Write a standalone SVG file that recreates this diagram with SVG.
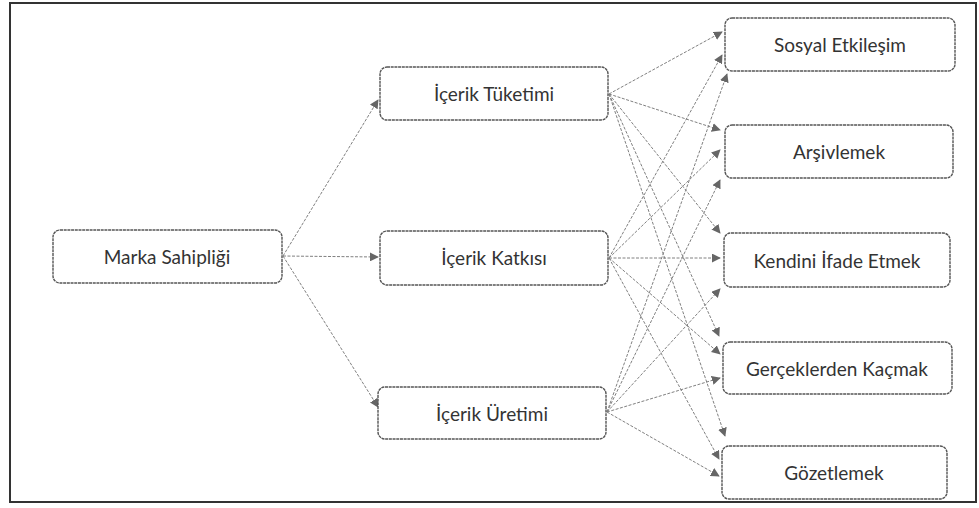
<svg xmlns="http://www.w3.org/2000/svg" width="979" height="508" viewBox="0 0 979 508">
<defs>
<marker id="ah" viewBox="0 0 10 10" refX="9" refY="5" markerWidth="9" markerHeight="9" markerUnits="userSpaceOnUse" orient="auto">
<path d="M0,0 L10,5 L0,10 z" fill="#666"/>
</marker>
<style>
.box{fill:#fff;stroke:#555;stroke-width:1.4;stroke-dasharray:3 0.7}
.lbl{font-family:Lato,"Open Sans",sans-serif;font-size:19px;fill:#333;text-anchor:middle;dominant-baseline:central}
.c{fill:none;stroke:#808080;stroke-width:1;stroke-dasharray:3 1.5;marker-end:url(#ah)}
</style>
</defs>
<rect x="0" y="0" width="979" height="508" fill="#fff"/>
<rect x="10" y="3" width="966" height="499" fill="none" stroke="#333" stroke-width="2"/>
<g id="connectors">
<line class="c" x1="283" y1="256" x2="378" y2="100"/>
<line class="c" x1="283" y1="256" x2="378" y2="257"/>
<line class="c" x1="283" y1="256" x2="378" y2="407"/>
<line class="c" x1="609" y1="94" x2="722" y2="32"/>
<line class="c" x1="609" y1="94" x2="720" y2="130"/>
<line class="c" x1="609" y1="94" x2="720" y2="233"/>
<line class="c" x1="609" y1="94" x2="719" y2="336"/>
<line class="c" x1="609" y1="94" x2="725" y2="436"/>
<line class="c" x1="609" y1="258" x2="722" y2="55"/>
<line class="c" x1="609" y1="258" x2="720" y2="150"/>
<line class="c" x1="609" y1="258" x2="720" y2="258"/>
<line class="c" x1="609" y1="258" x2="720" y2="354"/>
<line class="c" x1="609" y1="258" x2="719" y2="459"/>
<line class="c" x1="607" y1="412" x2="727" y2="74"/>
<line class="c" x1="607" y1="412" x2="720" y2="180"/>
<line class="c" x1="607" y1="412" x2="720" y2="289"/>
<line class="c" x1="607" y1="412" x2="720" y2="378"/>
<line class="c" x1="607" y1="412" x2="719" y2="476"/>
</g>
<g id="marka"><rect class="box" x="53" y="230" width="229" height="53" rx="7"/><text class="lbl" x="167" y="256">Marka Sahipliği</text></g>
<g id="tuketim"><rect class="box" x="380" y="67" width="228" height="53" rx="7"/><text class="lbl" x="494" y="93">İçerik Tüketimi</text></g>
<g id="katki"><rect class="box" x="380" y="231" width="228" height="54" rx="7"/><text class="lbl" x="494" y="257">İçerik Katkısı</text></g>
<g id="uretim"><rect class="box" x="378" y="387" width="228" height="52" rx="7"/><text class="lbl" x="492" y="413">İçerik Üretimi</text></g>
<g id="sosyal"><rect class="box" x="725" y="18" width="230" height="53" rx="7"/><text class="lbl" x="840" y="44">Sosyal Etkileşim</text></g>
<g id="arsiv"><rect class="box" x="725" y="125" width="228" height="53" rx="7"/><text class="lbl" x="839" y="151">Arşivlemek</text></g>
<g id="kendini"><rect class="box" x="724" y="233" width="226" height="54" rx="7"/><text class="lbl" x="837" y="260">Kendini İfade Etmek</text></g>
<g id="gercek"><rect class="box" x="723" y="342" width="229" height="52" rx="7"/><text class="lbl" x="837" y="368">Gerçeklerden Kaçmak</text></g>
<g id="gozet"><rect class="box" x="722" y="446" width="225" height="53" rx="7"/><text class="lbl" x="834" y="472">Gözetlemek</text></g>
</svg>
